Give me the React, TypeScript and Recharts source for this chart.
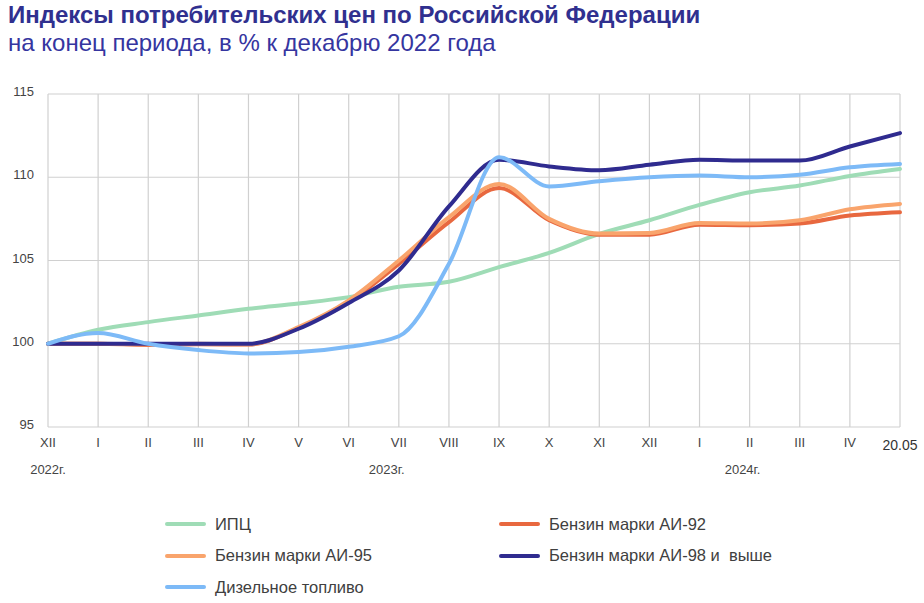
import { CartesianGrid, Line, LineChart, XAxis, YAxis } from 'recharts';

const months = ['XII', 'I', 'II', 'III', 'IV', 'V', 'VI', 'VII', 'VIII', 'IX', 'X', 'XI', 'XII', 'I', 'II', 'III', 'IV', '20.05'];

const cpi = [100, 100.84, 101.3, 101.7, 102.1, 102.42, 102.8, 103.42, 103.72, 104.6, 105.46, 106.6, 107.42, 108.34, 109.1, 109.5, 110.08, 110.5];
const ai92 = [100, 100, 99.93, 99.97, 99.95, 100.95, 102.5, 104.8, 107.3, 109.35, 107.42, 106.55, 106.55, 107.15, 107.12, 107.22, 107.7, 107.9];
const ai95 = [100, 100, 99.97, 100, 99.97, 101.0, 102.6, 105.0, 107.6, 109.6, 107.5, 106.62, 106.65, 107.25, 107.22, 107.42, 108.08, 108.4];
const ai98 = [100, 100, 100, 100, 100, 100.9, 102.45, 104.4, 108.25, 111.05, 110.65, 110.42, 110.75, 111.05, 111.0, 111.0, 111.85, 112.65];
const diesel = [100, 100.65, 100, 99.62, 99.42, 99.5, 99.82, 100.45, 104.8, 111.2, 109.45, 109.76, 110.0, 110.1, 110.0, 110.15, 110.6, 110.8];

const yTicks = [95, 100, 105, 110, 115];

// year captions under the month axis: category index they belong to
const years = [
  { index: 0, label: '2022г.' },
  { index: 6, label: '2023г.' },
  { index: 13, label: '2024г.' },
];
const yearShift: Record<number, number> = { 0: 0, 6: 38, 13: 43 };

const series = [
  { key: 'cpi', name: 'ИПЦ', color: '#9fdcb6' },
  { key: 'ai92', name: 'Бензин марки АИ-92', color: '#e8683f' },
  { key: 'ai95', name: 'Бензин марки АИ-95', color: '#f9a46c' },
  { key: 'ai98', name: 'Бензин марки АИ-98 и  выше', color: '#2f2b8f' },
  { key: 'diesel', name: 'Дизельное топливо', color: '#7dbaf7' },
];

const data = months.map((month, i) => ({
  month,
  cpi: cpi[i],
  ai92: ai92[i],
  ai95: ai95[i],
  ai98: ai98[i],
  diesel: diesel[i],
}));

const FONT = '"Liberation Sans", Arial, sans-serif';

function MonthTick(props: any) {
  const { x, y, payload, index } = props;
  const last = index === months.length - 1;
  const year = years.find((yr) => yr.index === index);
  return (
    <g>
      <text
        x={x}
        y={y + (last ? 15 : 12)}
        textAnchor="middle"
        fontSize={last ? 14 : 13}
        fill={last ? '#333' : '#444'}
        fontFamily={FONT}
      >
        {payload.value}
      </text>
      {year && (
        <text x={x + yearShift[index]} y={y + 39} textAnchor="middle" fontSize={13} fill="#444" fontFamily={FONT}>
          {year.label}
        </text>
      )}
    </g>
  );
}

function ValueTick(props: any) {
  const { x, y, payload } = props;
  return (
    <text x={x - 6} y={y + 2} textAnchor="end" fontSize={13} fill="#444" fontFamily={FONT}>
      {payload.value}
    </text>
  );
}

const legendRows = [
  [series[0], series[1]],
  [series[2], series[3]],
  [series[4]],
];

export default function App() {
  return (
    <div style={{ position: 'absolute', left: 0, top: 0, width: 924, height: 603, background: '#fff', fontFamily: FONT }}>
      <div style={{ position: 'absolute', left: 8, top: 3, fontSize: 24, lineHeight: '24px', fontWeight: 'bold', color: '#30308f', whiteSpace: 'nowrap' }}>
        Индексы потребительских цен по Российской Федерации
      </div>
      <div style={{ position: 'absolute', left: 8, top: 31, fontSize: 24, lineHeight: '24px', color: '#3535a0', whiteSpace: 'nowrap' }}>
        на конец периода, в % к декабрю 2022 года
      </div>
      <div style={{ position: 'absolute', left: 0, top: 0 }}>
        <LineChart width={924} height={500} data={data} margin={{ top: 94, right: 24, bottom: 43, left: 0 }}>
          <CartesianGrid stroke="#d0d0d0" strokeWidth={1.2} />
          <XAxis dataKey="month" interval={0} axisLine={false} tickLine={false} height={30} tick={<MonthTick />} allowDuplicatedCategory />
          <YAxis domain={[95, 115]} ticks={yTicks} width={48} axisLine={false} tickLine={false} tick={<ValueTick />} />
          {series.map((s) => (
            <Line
              key={s.key}
              type="monotone"
              dataKey={s.key}
              name={s.name}
              stroke={s.color}
              strokeWidth={4}
              strokeLinecap="round"
              dot={false}
              isAnimationActive={false}
            />
          ))}
        </LineChart>
      </div>
      {legendRows.map((row, r) => (
        <div key={r}>
          {row.map((s, c) => (
            <div
              key={s.key}
              style={{ position: 'absolute', left: c === 0 ? 165 : 499, top: 514 + r * 31.5, height: 20, display: 'flex', alignItems: 'center', whiteSpace: 'pre' }}
            >
              <div style={{ width: 41, height: 4, borderRadius: 2, background: s.color }} />
              <span style={{ marginLeft: 9, fontSize: 16.5, color: '#404040' }}>{s.name}</span>
            </div>
          ))}
        </div>
      ))}
    </div>
  );
}
